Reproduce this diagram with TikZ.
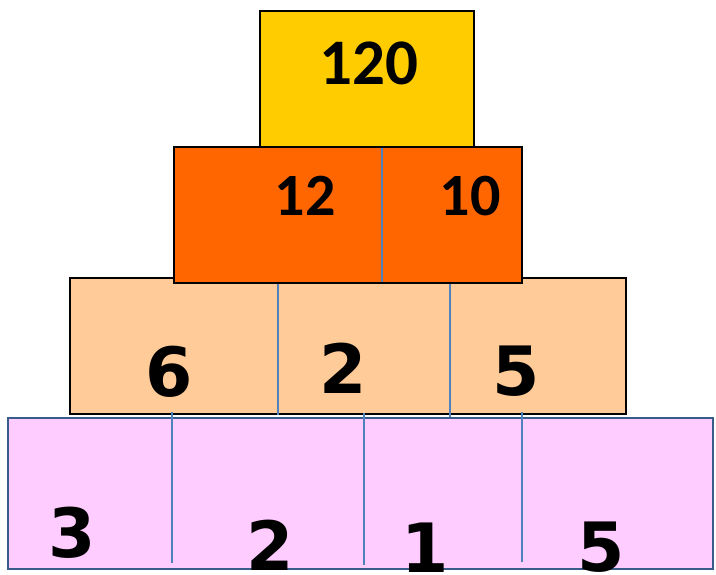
\documentclass[tikz,border=0pt]{standalone}
\usepackage{fontspec}
\newfontfamily\calib{Carlito}
\newfontfamily\dejavu{DejaVu Sans}
\definecolor{gold}{HTML}{FFCC00}
\definecolor{brick}{HTML}{FF6600}
\definecolor{peach}{HTML}{FFCC99}
\definecolor{lilac}{HTML}{FFCCFF}
\definecolor{rule}{HTML}{4F81BD}
\definecolor{edge}{HTML}{385D8A}
\tikzset{
  blk/.style={draw=black, line width=2pt},
  base/.style={draw=edge, line width=1.6pt},
  divider/.style={draw=rule, line width=1.3pt},
  numA/.style={inner sep=0pt, font=\calib\bfseries\fontsize{#1}{#1}\selectfont},
  numB/.style={inner sep=0pt, font=\dejavu\bfseries\fontsize{#1}{#1}\selectfont},
}
\begin{document}
\begin{tikzpicture}[x=1pt, y=-1pt]
  \useasboundingbox (0,0) rectangle (716,575);
  % top block
  \filldraw[blk, fill=gold] (260,11) rectangle (474,147);
  % third row
  \filldraw[blk, fill=peach] (70,278) rectangle (626,414);
  \draw[divider] (278,283) -- (278,415);
  \draw[divider] (450,283) -- (450,417);
  % second row
  \filldraw[blk, fill=brick] (174,147) rectangle (522,283);
  \draw[divider] (382,148) -- (382,282);
  % bottom row
  \filldraw[base, fill=lilac] (8,418) rectangle (713,569);
  \draw[divider] (172,412) -- (172,563);
  \draw[divider] (364,413) -- (364,565);
  \draw[divider] (522,412) -- (522,562);
  % numbers
  \node[numA=65] (n120) at (369,63) {120};
  \node[numA=60] (n12) at (305,196) {12};
  \node[numA=60] (n10) at (470,196) {10};
  \node[numB=68] (n6) at (169,372) {6};
  \node[numB=68] (n2a) at (343,368) {2};
  \node[numB=68] (n5a) at (516,371) {5};
  \node[numB=68] (n3) at (72,533) {3};
  \node[numB=68] (n2b) at (270,545) {2};
  \node[numB=68] (n1) at (425,548) {1};
  \node[numB=68] (n5b) at (601,547) {5};
\end{tikzpicture}
\end{document}
